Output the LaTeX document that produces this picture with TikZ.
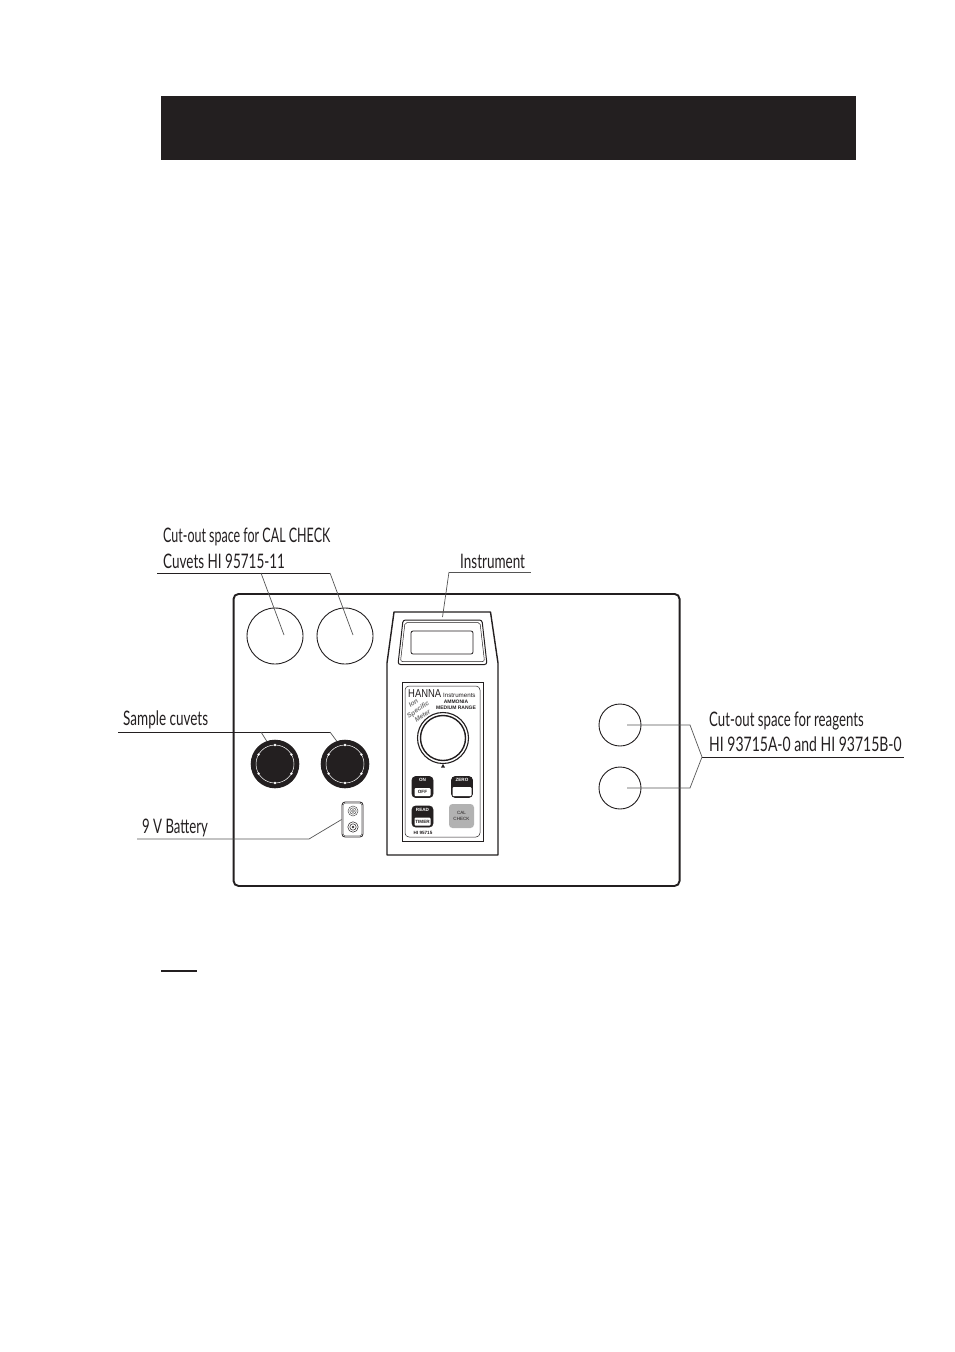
\documentclass[tikz,border=0pt]{standalone}
\usepackage{fontspec}
\usepackage{xcolor}
\usetikzlibrary{positioning}
\newfontfamily\calloutfont[FakeStretch=0.66]{Lato}
\newfontfamily\tightfont[FakeStretch=0.624]{Lato}
\newfontfamily\widefont[FakeStretch=0.675]{Lato}
\newfontfamily\widerfont[FakeStretch=0.70]{Lato}
\newfontfamily\brandfont[FakeStretch=0.82]{Liberation Sans}
\setsansfont{Liberation Sans}
\definecolor{inkblack}{HTML}{231F20}
\definecolor{leadgray}{HTML}{555555}
\tikzset{
  callout/.style={ % image of a condensed label beside a leader
    anchor=base west, inner sep=0pt, text=inkblack,
    font=\calloutfont\fontsize{20}{22}\selectfont
  },
  leader/.style={leadgray, line width=0.7pt},
  shelf/.style={inkblack, line width=0.9pt},
  cutout/.style={ % image of an empty round recess
    draw=inkblack, circle, line width=0.9pt, inner sep=0pt
  },
  cuvet/.style={
    circle, fill=inkblack, minimum size=48.6pt, inner sep=0pt
  },
  btnbody/.style={
    draw=inkblack, fill=inkblack, rectangle, rounded corners=3.5pt,
    minimum width=21pt, minimum height=21pt, inner sep=0pt, line width=0.6pt
  },
  btnface/.style={
    fill=white, rectangle, rounded corners=1pt, minimum width=16pt, minimum height=8pt, inner sep=0pt,
    font=\sffamily\bfseries\fontsize{4.6}{5}\selectfont, text=inkblack
  },
  btntext/.style={
    inner sep=0pt, font=\sffamily\bfseries\fontsize{4.6}{5}\selectfont
  },
  facetext/.style={
    inner sep=0pt, text=inkblack, font=\sffamily\bfseries\fontsize{5}{6}\selectfont, align=center
  }
}
\begin{document}
\begin{tikzpicture}[x=1pt, y=-1pt, inkblack]
  \useasboundingbox (0,0) rectangle (954,1352);
  \fill[white] (0,0) rectangle (954,1352);

  % header band and stub rule
  \node[fill=inkblack, minimum width=695pt, minimum height=64pt, inner sep=0pt, anchor=north west] (band) at (161,96) {};
  \coordinate (stub_a) at (161,971);
  \coordinate (stub_b) at (197,971);
  \draw[line width=1.6pt] (stub_a) -- (stub_b);

  % case
  \node[draw=inkblack, line width=1.9pt, rounded corners=5pt, minimum width=446pt, minimum height=292pt, inner sep=0pt, anchor=north west] (case) at (232.6,593) {};

  % recesses
  \node[cutout, minimum size=56pt] (cal_a) at (275,636) {};
  \node[cutout, minimum size=56pt] (cal_b) at (345,636) {};
  \node[cutout, minimum size=42pt] (reag_a) at (620,725) {};
  \node[cutout, minimum size=42pt] (reag_b) at (620,788) {};

  % sample cuvets
  \node[cuvet] (smp_a) at (275,764) {};
  \node[cuvet] (smp_b) at (345,764) {};
  \foreach \cv in {smp_a,smp_b} {
    \draw[white, line width=0.5pt] (\cv) circle[radius=19];
    \foreach \ang in {30,90,150,210,270,330}
      \fill[white] (\cv) ++(\ang:19) circle[radius=1.3];
  }

  % battery
  \node[draw=inkblack, rounded corners=3pt, line width=0.8pt, minimum width=21pt, minimum height=35pt, inner sep=0pt] (batt) at (352.5,819.5) {};
  \node[draw=leadgray, rounded corners=2pt, line width=0.4pt, minimum width=18.5pt, minimum height=32.5pt, inner sep=0pt] (batt_in) at (batt) {};
  \coordinate (batt_p) at (353,811);
  \coordinate (batt_n) at (353,827);
  \foreach \rad in {1.5,3.2,5} \draw[draw=leadgray, line width=0.5pt] (batt_p) circle[radius=\rad];
  \foreach \rad in {1,3.2,5.2} \draw[line width=0.5pt] (batt_n) circle[radius=\rad];

  % instrument
  \draw[line width=1.4pt, line join=round] (387,855) -- (387,663) -- (394,612) -- (490.5,612) -- (498,663) -- (498,855) -- cycle;
  \draw[line width=1pt, rounded corners=2.5pt] (403,620) -- (482,620) -- (487,664.5) -- (398,664.5) -- cycle;
  \draw[line width=0.5pt, rounded corners=2pt] (405,622.5) -- (480,622.5) -- (484.5,661.5) -- (400.5,661.5) -- cycle;
  \node[draw=inkblack, rounded corners=2pt, line width=0.8pt, minimum width=62pt, minimum height=23pt, inner sep=0pt] (display) at (442,642.5) {};
  \node[draw=inkblack, line width=1pt, minimum width=81pt, minimum height=159pt, inner sep=0pt] (plate) at (442.5,761.5) {};
  \node[draw=inkblack, rounded corners=4pt, line width=0.5pt, minimum width=75pt, minimum height=151pt, inner sep=0pt] (plate_in) at (plate) {};

  % plate print
  \node[inner sep=0pt, anchor=base west, font=\brandfont\fontsize{11.5}{12}\selectfont] (brand) at (408,697) {HANNA};
  \node[inner sep=0pt, anchor=base west, font=\sffamily\fontsize{6.2}{7}\selectfont] (brand_b) at (443,697) {Instruments};
  \node[facetext] (model) at (456,704.5) {AMMONIA\\MEDIUM RANGE};
  \node[inner sep=0pt, rotate=35, align=center, text=black!55, font=\sffamily\bfseries\itshape\fontsize{6.6}{8}\selectfont] (slogan) at (418,709.5) {Ion\\Specific\\Meter};

  % knob
  \node[draw=inkblack, circle, line width=1.1pt, minimum size=51pt, inner sep=0pt] (knob) at (443,738) {};
  \node[draw=inkblack, circle, line width=1.4pt, minimum size=45pt, inner sep=0pt] (knob_in) at (knob) {};
  \fill (441,767.5) -- (445,767.5) -- (443,764) -- cycle;

  % keys
  \node[btnbody] (on) at (422.5,787) {};
  \node[btnface, above=1.5pt of on.south] (off) {OFF};
  \node[btntext, text=white, below=2.3pt of on.north] (on_t) {ON};
  \node[btnbody] (zero) at (462,787) {};
  \node[btnface, minimum width=19pt, minimum height=9pt, above=1.5pt of zero.south] (zero_b) {};
  \node[btntext, text=white, below=2.3pt of zero.north] (zero_t) {ZERO};
  \node[btnbody] (read) at (422.5,816.5) {};
  \node[btnface, above=1.5pt of read.south] (timer) {TIMER};
  \node[btntext, text=white, below=2.3pt of read.north] (read_t) {READ};
  \node[fill=black!30, rounded corners=3.5pt, minimum width=25pt, minimum height=24pt, inner sep=0pt, align=center, text=inkblack, font=\sffamily\fontsize{4.6}{6}\selectfont] (cal) at (461.5,816) {CAL\\CHECK};
  \node[inner sep=0pt, font=\sffamily\bfseries\fontsize{4.6}{5}\selectfont] (model_no) at (423,833) {HI 95715};

  % labels
  \node[callout, font=\tightfont\fontsize{20}{22}\selectfont] (lbl_cal_a) at (163,542) {Cut-out space for CAL CHECK};
  \node[callout, font=\widefont\fontsize{20}{22}\selectfont] (lbl_cal_b) at (163,568) {Cuvets HI 95715-11};
  \node[callout, font=\widefont\fontsize{20}{22}\selectfont] (lbl_inst) at (460,568) {Instrument};
  \node[callout, font=\widefont\fontsize{20}{22}\selectfont] (lbl_smp) at (123,725) {Sample cuvets};
  \node[callout] (lbl_batt) at (142,833.5) {9 V Battery};
  \node[callout] (lbl_reag_a) at (709,726) {Cut-out space for reagents};
  \node[callout, font=\widerfont\fontsize{20}{22}\selectfont] (lbl_reag_b) at (709,751) {HI 93715A-0 and HI 93715B-0};

  % leaders
  \coordinate (cal_s) at (157,573);
  \coordinate (cal_e) at (330,573);
  \coordinate (cal_f) at (261,573);
  \draw[shelf] (cal_s) -- (cal_e);
  \draw[leader] (cal_f) -- ([xshift=9pt,yshift=1pt]cal_a.center);
  \draw[leader] (cal_e) -- ([xshift=8pt,yshift=1pt]cal_b.center);

  \coordinate (inst_s) at (449,572);
  \coordinate (inst_e) at (531,572);
  \coordinate (inst_t) at (442.5,617);
  \draw[leader] (inst_s) -- (inst_e);
  \draw[leader] (inst_s) -- (inst_t);

  \coordinate (smp_s) at (118,732);
  \coordinate (smp_e) at (330,732);
  \coordinate (smp_f) at (261,732);
  \draw[shelf] (smp_s) -- (smp_e);
  \draw[leader] (smp_f) -- (smp_a.110);
  \draw[leader] (smp_e) -- (smp_b.110);

  \coordinate (batt_s) at (137,839);
  \coordinate (batt_f) at (309,839);
  \draw[leader] (batt_s) -- (batt_f) -- (batt.west);

  \coordinate (reag_s) at (702,757);
  \coordinate (reag_e) at (904,757);
  \coordinate (reag_u) at (690,725);
  \coordinate (reag_d) at (690,788);
  \draw[shelf] (reag_s) -- (reag_e);
  \draw[leader] ([xshift=7pt]reag_a.center) -- (reag_u) -- (reag_s);
  \draw[leader] ([xshift=7pt]reag_b.center) -- (reag_d) -- (reag_s);
\end{tikzpicture}
\end{document}
